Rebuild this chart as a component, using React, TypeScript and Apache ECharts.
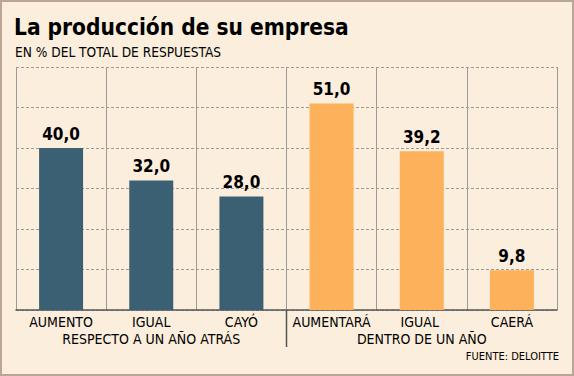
import React, { useEffect, useRef } from "react";
import * as echarts from "echarts";

const categories = ["AUMENTO", "IGUAL", "CAYÓ", "AUMENTARÁ", "IGUAL ", "CAERÁ"];
const values = [40.0, 32.0, 28.0, 51.0, 39.2, 9.8];
const groupOfCategory = [0, 0, 0, 1, 1, 1];
const groups = ["RESPECTO A UN AÑO ATRÁS", "DENTRO DE UN AÑO"];
const groupColors = ["#3C6073", "#FDB15A"];
const yTicks = [0, 10, 20, 30, 40, 50, 60];

const W = 574;
const H = 376;
const GRID = { left: 16, right: 17, top: 67, bottom: 66 };
const FONT = "'DejaVu Sans Condensed', 'DejaVu Sans', sans-serif";

export default function App() {
  const ref = useRef<HTMLDivElement>(null);
  useEffect(() => {
    if (!ref.current) return;
    const chart = echarts.init(ref.current, undefined, { renderer: "svg" });
    const plotW = W - GRID.left - GRID.right;
    const midX = GRID.left + plotW / 2;
    const axisY = H - GRID.bottom;
    chart.setOption({
      animation: false,
      backgroundColor: "#FBEEDC",
      textStyle: { fontFamily: FONT },
      title: [
        {
          text: "La producción de su empresa",
          left: 14,
          top: 15,
          padding: 0,
          textStyle: { fontFamily: FONT, fontSize: 22.5, fontWeight: "bold", color: "#000" },
        },
        {
          text: "EN % DEL TOTAL DE RESPUESTAS",
          left: 15,
          top: 45,
          padding: 0,
          textStyle: { fontFamily: FONT, fontSize: 13.6, fontWeight: "normal", color: "#000" },
        },
      ],
      grid: { ...GRID, containLabel: false },
      xAxis: [
        {
          type: "category",
          data: categories,
          axisLine: { lineStyle: { color: "#555", width: 1.5 } },
          axisTick: { show: false },
          axisLabel: { color: "#000", fontSize: 14, margin: 5, fontFamily: FONT, interval: 0 },
          splitLine: { show: true, lineStyle: { color: "#9a9a9a", width: 1, type: "solid" } },
        },
        {
          type: "category",
          position: "bottom",
          data: groups,
          axisLine: { show: false },
          axisTick: { show: false },
          axisLabel: { color: "#000", fontSize: 14, margin: 22, fontFamily: FONT, interval: 0 },
          splitLine: { show: false },
        },
      ],
      yAxis: {
        type: "value",
        min: yTicks[0],
        max: yTicks[yTicks.length - 1],
        interval: yTicks[1] - yTicks[0],
        axisLabel: { show: false },
        axisLine: { show: false },
        axisTick: { show: false },
        splitLine: { show: true, lineStyle: { color: "#9a9a9a", width: 1, type: [3, 2] } },
      },
      series: [
        {
          type: "bar",
          xAxisIndex: 0,
          barWidth: 44,
          data: values.map((v, i) => ({
            value: v,
            itemStyle: { color: groupColors[groupOfCategory[i]] },
          })),
          label: {
            show: true,
            position: "top",
            distance: 6,
            formatter: (p: any) => p.value.toFixed(1).replace(".", ","),
            color: "#000",
            fontSize: 17,
            fontWeight: "bold",
            fontFamily: FONT,
          },
        },
      ],
      graphic: [
        {
          type: "rect",
          z: 100,
          silent: true,
          shape: { x: 1, y: 1, width: W - 2, height: H - 2 },
          style: { fill: "none", stroke: "#BBA595", lineWidth: 2 },
        },
        {
          type: "line",
          z: 100,
          shape: { x1: midX, y1: axisY, x2: midX, y2: axisY + 37 },
          style: { stroke: "#555", lineWidth: 1.5 },
        },
        {
          type: "text",
          right: 15,
          top: 351,
          style: { text: "FUENTE: DELOITTE", fontSize: 11, fontFamily: FONT, fill: "#000" },
        },
      ],
    });
    return () => chart.dispose();
  }, []);
  return (
    <div
      ref={ref}
      style={{ position: "fixed", left: 0, top: 0, width: W, height: H }}
    />
  );
}
